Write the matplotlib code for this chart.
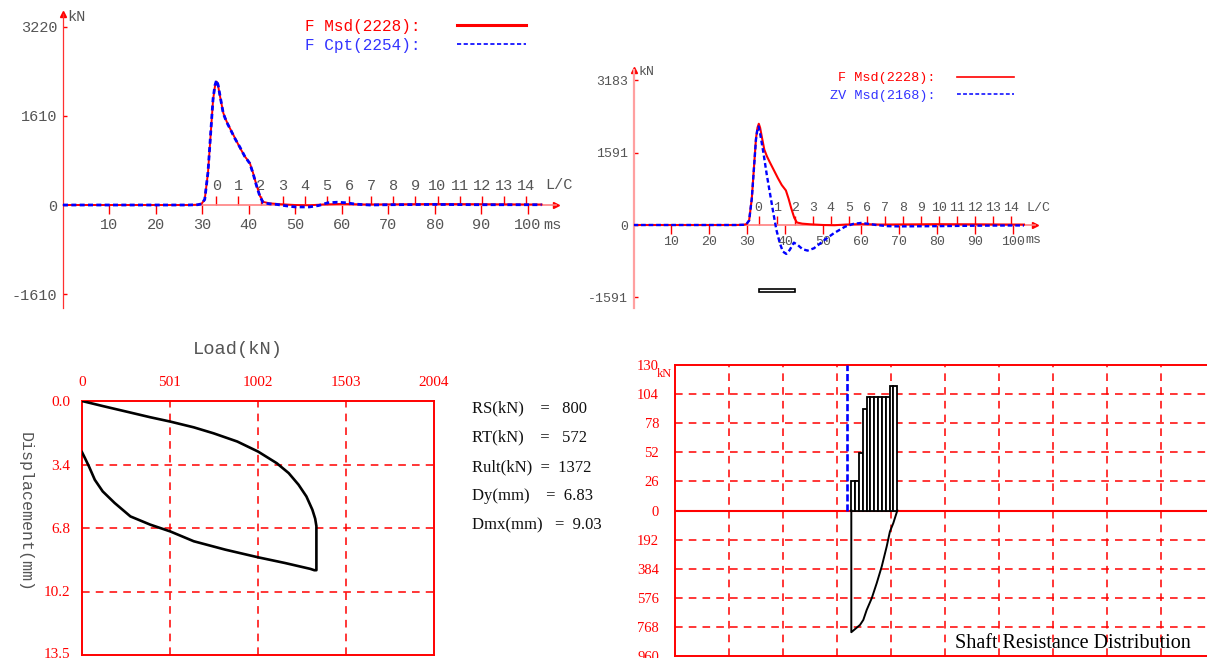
import matplotlib
matplotlib.use("Agg")
import matplotlib.pyplot as plt
from matplotlib.lines import Line2D
from matplotlib.patches import Rectangle
import numpy as np

# ============================================================
# DATA
# ============================================================
# measured force F (kN) vs time (ms)
t_msd = [0, 10, 20, 27, 29, 29.8, 30.5, 31.2, 31.9, 32.3, 32.7, 33.05, 33.4, 33.8,
         34.5, 35.2, 35.9, 37.0, 38.1, 39.1, 40.2, 40.9, 41.6, 42.4, 43.1, 44.5,
         46.7, 50, 53, 56, 60, 65, 70, 80, 90, 100, 103]
f_msd = [0, 0, 0, 0, 5, 20, 100, 580, 1420, 1900, 2140, 2228, 2140, 1960,
         1660, 1510, 1390, 1210, 1030, 880, 760, 580, 370, 160, 55, 30,
         15, 0, -5, 10, 20, 10, 12, 18, 15, 10, 10]

# computed force F (kN)
t_cpt = [0, 10, 20, 27, 29, 29.8, 30.5, 31.2, 31.9, 32.3, 32.7, 33.05, 33.4, 33.8,
         34.5, 35.2, 35.9, 37.0, 38.1, 39.1, 40.2, 40.9, 41.6, 42.4, 43.1, 44.5,
         46, 48, 50, 53, 55, 57, 59, 61, 63, 66, 70, 80, 90, 100, 103]
f_cpt = [0, 0, 0, 0, 5, 20, 100, 590, 1440, 1920, 2160, 2254, 2160, 1970,
         1650, 1500, 1385, 1200, 1040, 880, 750, 570, 360, 150, 40, 20,
         10, -15, -35, -35, -10, 40, 50, 40, 15, 0, 5, 10, 5, 5, 5]

# measured velocity x impedance ZV (kN)
t_zv = [0, 10, 20, 27, 29, 29.8, 30.5, 31.2, 31.9, 32.3, 32.7, 33.0, 33.4, 34.3,
        35.1, 36.0, 36.9, 37.7, 38.6, 39.4, 40.3, 41.2, 42.3, 43.3, 44.6, 45.9,
        47.6, 49.3, 51.0, 52.8, 55.8, 58, 60, 62, 64, 67, 70, 80, 90, 100, 103]
f_zv = [0, 0, 0, 0, 5, 20, 100, 580, 1400, 1880, 2120, 2168, 2012, 1573,
        1134, 695, 257, -110, -402, -585, -636, -549, -388, -439, -533, -563,
        -512, -402, -292, -183, -37, 25, 45, 25, 0, -25, -30, -25, -15, -10, -10]

ms_ticks = [10, 20, 30, 40, 50, 60, 70, 80, 90, 100]
lc_ticks = list(range(15))
LC_T0, LC_DT = 33.0, 4.76          # time of L/C = 0 and one L/C step (ms)
yticks_left = [-1610, 0, 1610, 3220]
yticks_right = [-1591, 0, 1591, 3183]
window_lc = [0, 2]                 # analysis window marker (L/C)
window_kn = [-1470, -1404]

# load - displacement (loading then unloading)
load_kn = [0, 118, 254, 389, 502, 637, 750, 885, 1004, 1110, 1178, 1234, 1279,
           1313, 1329, 1336, 1336, 1324, 1302, 1155, 1004, 817, 637, 502, 389,
           276, 186, 118, 73, 40, 17, 0]
disp_mm = [0, 0.27, 0.57, 0.87, 1.1, 1.41, 1.73, 2.17, 2.71, 3.33, 3.86, 4.48,
           5.11, 5.82, 6.3, 6.7, 9.06, 9.06, 8.99, 8.67, 8.37, 7.96, 7.51, 6.98,
           6.62, 6.18, 5.46, 4.84, 4.22, 3.51, 3.06, 2.74]
load_ticks = [0, 501, 1002, 1503, 2004]
disp_ticks = [0.0, 3.4, 6.8, 10.2, 13.5]
stats = [("RS(kN)    =   ", "800"), ("RT(kN)    =   ", "572"),
         ("Rult(kN)  =  ", "1372"), ("Dy(mm)    =  ", "6.83"),
         ("Dmx(mm)   =  ", "9.03")]

# shaft resistance distribution
shaft_kn = [26, 26, 51, 91, 101, 101, 101, 101, 101, 101, 111, 111]
cum_x = [3.265, 3.265, 3.426, 3.487, 3.55, 3.643, 3.735, 3.828, 3.92, 3.98, 4.043, 4.117]
cum_kn = [0, 803, 755, 722, 656, 579, 480, 370, 238, 139, 83, 0]
up_ticks = [130, 104, 78, 52, 26, 0]
down_ticks = [192, 384, 576, 768, 960]
UP_MAX, DOWN_MAX = 130, 960
PILE_X, SEG_W = 3.265, 0.071
sensor_x = 3.19

# ============================================================
# SETUP
# ============================================================
W, H = 1207, 658
MONO = "Liberation Mono"
SERIF = "Liberation Serif"
GRAY = "#555555"
RED = "#ff0000"
BLUE = "#0000ff"
plt.rcParams["font.family"] = MONO

fig = plt.figure(figsize=(W / 100, H / 100), dpi=100)


def box(l, t, r, b):
    return [l / W, 1 - b / H, (r - l) / W, (b - t) / H]


def ftext(x, y, s, **kw):
    fig.text(x / W, 1 - y / H, s, **kw)


def ms_to_lc(x):
    return (np.asarray(x) - LC_T0) / LC_DT


def lc_to_ms(x):
    return LC_T0 + np.asarray(x) * LC_DT


def wave_axes(rect, xmax, ylim, yticks, fs, left_col, left_lw, pads):
    ax = fig.add_axes(rect)
    ax.set_facecolor("none")
    ax.set_xlim(0, xmax)
    ax.set_ylim(*ylim)
    ax.spines["top"].set_visible(False)
    ax.spines["right"].set_visible(False)
    ax.spines["left"].set_color(left_col)
    ax.spines["left"].set_linewidth(left_lw)
    ax.spines["bottom"].set_position(("data", 0))
    ax.spines["bottom"].set_color("#ff8080")
    ax.spines["bottom"].set_linewidth(1.2)
    ax.set_yticks(yticks)
    ax.set_yticklabels([str(v) for v in yticks])
    ax.tick_params(axis="y", direction="in", length=3, width=1, color=RED,
                   labelcolor=GRAY, labelsize=fs, pad=4)
    ax.set_xticks(ms_ticks)
    ax.set_xticklabels([str(v) for v in ms_ticks])
    ax.tick_params(axis="x", direction="out", length=6.5, width=1, color=RED,
                   labelcolor=GRAY, labelsize=fs, pad=pads[0])
    sec = ax.secondary_xaxis(0, functions=(ms_to_lc, lc_to_ms), transform=ax.transData)
    sec.set_alignment("top")
    sec.spines["top"].set_visible(False)
    sec.set_xticks(lc_ticks)
    sec.set_xticklabels([str(v) for v in lc_ticks])
    sec.tick_params(axis="x", direction="out", length=6.5, width=1, color=RED,
                    labelcolor=GRAY, labelsize=fs, pad=pads[1])
    ax.plot(1, 0, ">", color=RED, ms=4, transform=ax.get_yaxis_transform(), clip_on=False)
    ax.plot(0, 1, "^", color=RED, ms=4, transform=ax.get_xaxis_transform(), clip_on=False)
    return ax


# ============================================================
# 1. F Msd vs F Cpt
# ============================================================
ax1 = wave_axes(box(63, 14.3, 556, 308), 106.1, (-1859, 3442), yticks_left, 11,
                "#ff3030", 0.9, (3, 2))
ax1.plot(t_msd, f_msd, color=RED, lw=1.4, zorder=3)
ax1.plot(t_cpt, f_cpt, color=BLUE, lw=2.0, ls=(0, (1.8, 1.2)), zorder=4)
h1 = [Line2D([], [], color=RED, lw=2.2),
      Line2D([], [], color=BLUE, lw=1.2, ls=(0, (2.5, 1.5)))]
ax1.legend(h1, ["F Msd(2228):", "F Cpt(2254):"], markerfirst=False, frameon=False,
           fontsize=11.5, labelcolor=[RED, "#3333ff"], handlelength=4.3,
           handletextpad=2.3, labelspacing=0.25, borderpad=0, borderaxespad=0,
           loc="upper left", bbox_to_anchor=(305 / W, 1 - 19 / H),
           bbox_transform=fig.transFigure)
ftext(67, 17, "kN", color=GRAY, fontsize=11, va="center")
ftext(543, 225, "ms", color=GRAY, fontsize=11, va="center")
ftext(545, 185, "L/C", color=GRAY, fontsize=11, va="center")

# ============================================================
# 2. F Msd vs ZV Msd
# ============================================================
ax2 = wave_axes(box(633.5, 70, 1035, 308.3), 105.9, (-1833, 3411), yticks_right, 9.5,
                "#ffa0a0", 1.6, (1.5, 1.5))
ax2.plot(t_msd, f_msd, color=RED, lw=1.5, zorder=3)
ax2.plot(t_zv, f_zv, color=BLUE, lw=1.7, ls=(0, (2.0, 1.2)), zorder=4)
win_ms = lc_to_ms(window_lc)
ax2.add_patch(Rectangle((win_ms[0], window_kn[0]), win_ms[1] - win_ms[0],
                        window_kn[1] - window_kn[0], facecolor="white",
                        edgecolor="black", lw=1.2, clip_on=False))
h2 = [Line2D([], [], color=RED, lw=1.2),
      Line2D([], [], color=BLUE, lw=1.1, ls=(0, (2.5, 1.5)))]
ax2.legend(h2, ["F Msd(2228):", "ZV Msd(2168):"], markerfirst=False, frameon=False,
           fontsize=9.7, labelcolor=[RED, "#3333ff"], handlelength=4.2,
           handletextpad=1.6, labelspacing=0.35, borderpad=0, borderaxespad=0,
           loc="upper left", bbox_to_anchor=(830 / W, 1 - 72 / H),
           bbox_transform=fig.transFigure)
ftext(638, 72, "kN", color=GRAY, fontsize=9.5, va="center")
ftext(1025, 240, "ms", color=GRAY, fontsize=9.5, va="center")
ftext(1027, 208, "L/C", color=GRAY, fontsize=9.5, va="center")

# ============================================================
# 3. LOAD - DISPLACEMENT
# ============================================================
ax3 = fig.add_axes(box(82, 401, 433.6, 655))
ax3.plot(load_kn, disp_mm, color="black", lw=1.9, zorder=3)
ax3.set_xlim(load_ticks[0], load_ticks[-1])
ax3.set_ylim(13.6, 0)
ax3.xaxis.tick_top()
ax3.set_xticks(load_ticks)
ax3.set_xticklabels([str(v) for v in load_ticks])
ax3.set_yticks(disp_ticks)
ax3.set_yticklabels([f"{v:.1f}" for v in disp_ticks])
ax3.tick_params(length=0, labelcolor=RED, labelsize=11)
ax3.tick_params(axis="x", pad=9)
ax3.tick_params(axis="y", pad=8.5)
for lab in ax3.get_xticklabels() + ax3.get_yticklabels():
    lab.set_family(SERIF)
for s in ax3.spines.values():
    s.set_color(RED)
    s.set_linewidth(1.4)
for v in load_ticks[1:-1]:
    ax3.axvline(v, color=RED, lw=1.1, ls=(0, (5, 4)), zorder=1)
for d in disp_ticks[1:-1]:
    ax3.axhline(d, color=RED, lw=1.1, ls=(0, (5, 4)), zorder=1)

ftext(238, 350, "Load(kN)", color=GRAY, fontsize=13.5, ha="center", va="center")
ftext(25, 512, "Displacement(mm)", color=GRAY, fontsize=12, ha="center",
      va="center", rotation=-90)
for i, (lab, val) in enumerate(stats):
    ftext(472, 408.5 + i * 29.3, lab + val, color="#111111", fontsize=12,
          family=SERIF, va="center")

# ============================================================
# 4. SHAFT RESISTANCE DISTRIBUTION
# ============================================================
ax4 = fig.add_axes(box(675, 365, 1215, 656))
ax4.set_xlim(0, 10)
ax4.set_ylim(-1, 1)
for s in ax4.spines.values():
    s.set_color(RED)
    s.set_linewidth(1.4)
for gx in range(1, 10):
    ax4.axvline(gx, color=RED, lw=1.1, ls=(0, (5, 4)), zorder=1)
grid_y = [v / UP_MAX for v in up_ticks[1:-1]] + [-v / DOWN_MAX for v in down_ticks[:-1]]
for gy in grid_y:
    ax4.axhline(gy, color=RED, lw=1.1, ls=(0, (5, 4)), zorder=1)
ax4.axhline(0, color=RED, lw=1.5, zorder=1)

seg_left = PILE_X + np.arange(len(shaft_kn)) * SEG_W
ax4.bar(seg_left, np.array(shaft_kn) / UP_MAX, width=SEG_W, align="edge",
        facecolor="white", edgecolor="black", lw=1.3, zorder=3)
ax4.plot(cum_x, -np.array(cum_kn) / DOWN_MAX, color="black", lw=1.4, zorder=3)
ax4.axvline(sensor_x, ymin=0.5, ymax=1.0, color=BLUE, lw=1.9,
            ls=(0, (2.7, 1.1)), zorder=4)

ax4.set_xticks([])
ytick_pos = [v / UP_MAX for v in up_ticks] + [-v / DOWN_MAX for v in down_ticks]
ax4.set_yticks(ytick_pos)
ax4.set_yticklabels([str(v) for v in up_ticks + down_ticks])
ax4.tick_params(axis="y", length=0, labelcolor=RED, labelsize=10.5, pad=11.5)
for lab in ax4.get_yticklabels():
    lab.set_family(SERIF)
ftext(657, 374, "kN", color=RED, fontsize=9, family=SERIF, va="center")
ftext(955, 643, "Shaft Resistance Distribution", color="black", fontsize=14.5,
      family=SERIF, va="center")

plt.savefig("out.png", dpi=100)
plt.close()
